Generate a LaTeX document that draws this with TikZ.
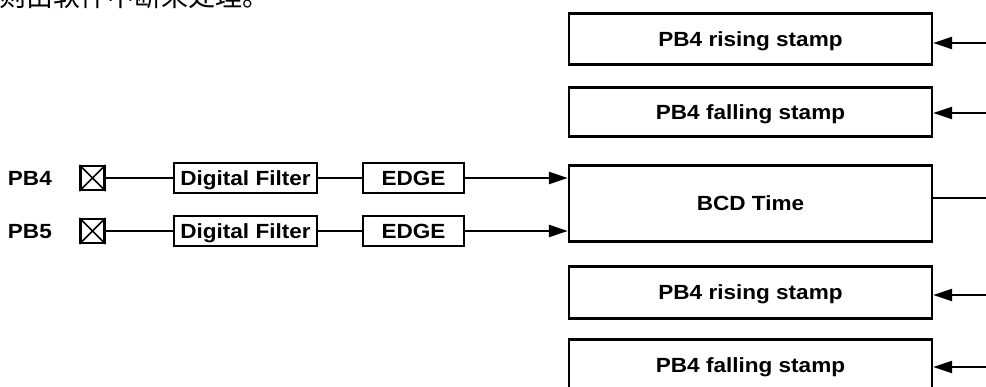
\documentclass[tikz,border=0pt]{standalone}
\usepackage{fontspec}
\setmainfont{Liberation Sans}
\newfontfamily\labfont[FakeStretch=1.1]{Liberation Sans}
\newfontfamily\cjkfont{Noto Sans CJK SC}
\usetikzlibrary{arrows.meta}
\begin{document}
\begin{tikzpicture}[x=1pt,y=-1pt,
  box/.style={draw, line width=2.3pt, inner sep=0pt, text height=14.7pt, text depth=0pt,
    font=\labfont\bfseries\fontsize{20.5}{24}\selectfont},
  stampbox/.style={box, minimum width=363pt},
  lab/.style={inner sep=0pt, font=\labfont\bfseries\fontsize{20.5}{24}\selectfont},
  pinbox/.style={draw, line width=2.2pt, minimum size=24pt, inner sep=0pt},
  conn/.style={line width=2.2pt},
  arr/.style={conn, -{Triangle[length=19pt,width=12pt]}},
]
\useasboundingbox (0,0) rectangle (986,387);
\clip (0,0) rectangle (986,387);

% cropped caption text at the top
\node[anchor=base west, inner sep=0pt, font=\cjkfont\fontsize{27}{27}\selectfont] (cn) at (-1,7) {则由软件中断来处理。};

% right column
\node[stampbox, minimum height=51pt] (s1) at (750.5,39) {PB4 rising stamp};
\node[stampbox, minimum height=49pt] (s2) at (750.5,112) {PB4 falling stamp};
\node[stampbox, minimum height=76pt] (bcd) at (750.5,203.5) {BCD Time};
\node[stampbox, minimum height=52pt] (s4) at (750.5,292.5) {PB4 rising stamp};
\node[stampbox, minimum height=52pt] (s5) at (750.5,365.5) {PB4 falling stamp};

% left chain
\node[lab, anchor=base east] (p4) at (52,185.5) {PB4};
\node[lab, anchor=base east] (p5) at (52,238.5) {PB5};
\node[pinbox] (x4) at (92.5,178) {};
\node[pinbox] (x5) at (92.5,231) {};
\draw[line width=1.5pt] (x4.north west) -- (x4.south east) (x4.north east) -- (x4.south west);
\draw[line width=1.5pt] (x5.north west) -- (x5.south east) (x5.north east) -- (x5.south west);

\node[box, minimum width=143pt, minimum height=30pt] (d4) at (245.5,178) {Digital Filter};
\node[box, minimum width=143pt, minimum height=30pt] (d5) at (245.5,231) {Digital Filter};
\node[box, minimum width=101pt, minimum height=30pt] (e4) at (413.5,178) {EDGE};
\node[box, minimum width=101pt, minimum height=30pt] (e5) at (413.5,231) {EDGE};

\draw[conn] (x4.east) -- (d4.west);
\draw[conn] (d4.east) -- (e4.west);
\draw[arr] (e4.east) -- (e4.east -| bcd.west);
\draw[conn] (x5.east) -- (d5.west);
\draw[conn] (d5.east) -- (e5.west);
\draw[arr] (e5.east) -- (e5.east -| bcd.west);

% right-hand connectors
\coordinate (r1) at (992,43);
\coordinate (r2) at (992,113);
\coordinate (r3) at (992,198);
\coordinate (r4) at (992,295);
\coordinate (r5) at (992,367);
\draw[arr] (r1) -- (r1 -| s1.east);
\draw[arr] (r2) -- (r2 -| s2.east);
\draw[conn] (bcd.east |- r3) -- (r3);
\draw[arr] (r4) -- (r4 -| s4.east);
\draw[arr] (r5) -- (r5 -| s5.east);
\end{tikzpicture}
\end{document}
